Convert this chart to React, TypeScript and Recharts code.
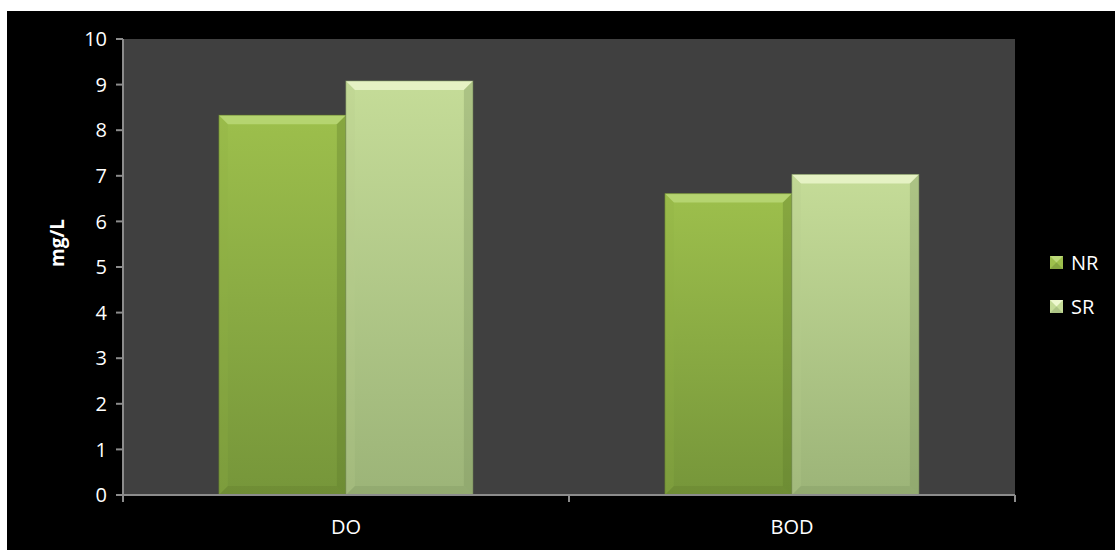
import { BarChart, Bar, XAxis, YAxis, CartesianGrid } from "recharts"

const categories = ["DO", "BOD"]
const nrValues = [8.33, 6.61]
const srValues = [9.08, 7.03]
const yTicks = [0, 1, 2, 3, 4, 5, 6, 7, 8, 9, 10]

const data = categories.map((name, i) => ({ name, NR: nrValues[i], SR: srValues[i] }))

const CHART_W = 1108
const CHART_H = 539
const MARGIN = { top: 28, right: 100, left: 0, bottom: 0 }
const Y_AXIS_W = 116
const X_AXIS_H = 55
const FONT = "'Open Sans', 'Noto Sans', sans-serif"
const AXIS_COLOR = "#8c8c8c"

const PALETTE: Record<string, { top: string; bottom: string; hi: string; side: string; dark: string }> = {
  NR: { top: "#9dbf4c", bottom: "#76963a", hi: "#bcd979", side: "#8fb043", dark: "#5f7a2c" },
  SR: { top: "#c5dc98", bottom: "#9cb478", hi: "#eef8cf", side: "#b7cd8c", dark: "#7d9460" },
}

// bar with a bevelled edge, like the Office "angle" preset
function BevelBar(props: any) {
  const { x, y, width: w, height: h, dataKey } = props
  if (!h || h <= 0) return null
  const c = PALETTE[dataKey]
  const b = Math.min(9, w / 4, h / 4)
  const id = `grad-${dataKey}`
  return (
    <g>
      <rect x={x} y={y} width={w} height={h} fill={`url(#${id})`} />
      <polygon points={`${x},${y} ${x + w},${y} ${x + w - b},${y + b} ${x + b},${y + b}`} fill={c.hi} opacity={0.8} />
      <polygon points={`${x},${y} ${x + b},${y + b} ${x + b},${y + h - b} ${x},${y + h}`} fill={c.side} opacity={0.25} />
      <polygon points={`${x + w},${y} ${x + w - b},${y + b} ${x + w - b},${y + h - b} ${x + w},${y + h}`} fill={c.dark} opacity={0.35} />
      <polygon points={`${x},${y + h} ${x + b},${y + h - b} ${x + w - b},${y + h - b} ${x + w},${y + h}`} fill={c.dark} opacity={0.3} />
      <rect x={x} y={y} width={w} height={h} fill="none" stroke={c.dark} strokeOpacity={0.5} strokeWidth={1} />
    </g>
  )
}

// category label plus tick marks on the band edges
function CategoryTick(props: any) {
  const { x, y, payload } = props
  const half = (CHART_W - MARGIN.left - MARGIN.right - Y_AXIS_W) / categories.length / 2
  return (
    <g>
      <line x1={x - half} y1={y} x2={x - half} y2={y + 7} stroke={AXIS_COLOR} strokeWidth={2} />
      <line x1={x + half} y1={y} x2={x + half} y2={y + 7} stroke={AXIS_COLOR} strokeWidth={2} />
      <text x={x} y={y + 31} textAnchor="middle" dominantBaseline="central" fill="#ffffff" fontSize={20} fontFamily={FONT}>
        {payload.value}
      </text>
    </g>
  )
}

function LegendSwatch({ k }: { k: string }) {
  const c = PALETTE[k]
  return (
    <svg width={13} height={13} style={{ display: "block" }}>
      <rect x={0} y={0} width={13} height={13} fill={c.top} />
      <polygon points="0,0 13,0 6.5,6.5" fill={c.hi} />
      <polygon points="0,13 13,13 6.5,6.5" fill={c.bottom} opacity={0.6} />
    </svg>
  )
}

function SeriesLegend() {
  return (
    <div style={{ position: "absolute", left: 1043, top: 238, fontFamily: FONT, fontSize: 20, color: "#ffffff" }}>
      {["NR", "SR"].map((k, i) => (
        <div key={k} style={{ display: "flex", alignItems: "center", height: 26, marginTop: i ? 18 : 0 }}>
          <LegendSwatch k={k} />
          <span style={{ marginLeft: 8 }}>{k}</span>
        </div>
      ))}
    </div>
  )
}

export default function App() {
  return (
    <div style={{ position: "absolute", left: 7, top: 11, width: CHART_W, height: CHART_H, background: "#000000" }}>
      <BarChart width={CHART_W} height={CHART_H} data={data} margin={MARGIN} barCategoryGap="21.5%" barGap={0}>
        <defs>
          {Object.keys(PALETTE).map((k) => (
            <linearGradient key={k} id={`grad-${k}`} x1="0" y1="0" x2="0" y2="1">
              <stop offset="0%" stopColor={PALETTE[k].top} />
              <stop offset="100%" stopColor={PALETTE[k].bottom} />
            </linearGradient>
          ))}
        </defs>
        <CartesianGrid fill="#404040" horizontal={false} vertical={false} />
        <XAxis
          dataKey="name"
          height={X_AXIS_H}
          stroke={AXIS_COLOR}
          strokeWidth={2}
          tickLine={false}
          tickSize={0}
          tickMargin={0}
          tick={<CategoryTick />}
          interval={0}
        />
        <YAxis
          width={Y_AXIS_W}
          domain={[0, 10]}
          ticks={yTicks}
          stroke={AXIS_COLOR}
          strokeWidth={2}
          tickSize={7}
          tickMargin={9}
          tick={{ fill: "#ffffff", fontSize: 20, fontFamily: FONT }}
          interval={0}
          label={{
            value: "mg/L",
            angle: -90,
            position: "insideLeft",
            offset: 50,
            fill: "#ffffff",
            fontSize: 19,
            fontWeight: "bold",
            fontFamily: FONT,
          }}
        />
        <Bar dataKey="NR" shape={<BevelBar dataKey="NR" />} isAnimationActive={false} />
        <Bar dataKey="SR" shape={<BevelBar dataKey="SR" />} isAnimationActive={false} />
      </BarChart>
      <SeriesLegend />
    </div>
  )
}
